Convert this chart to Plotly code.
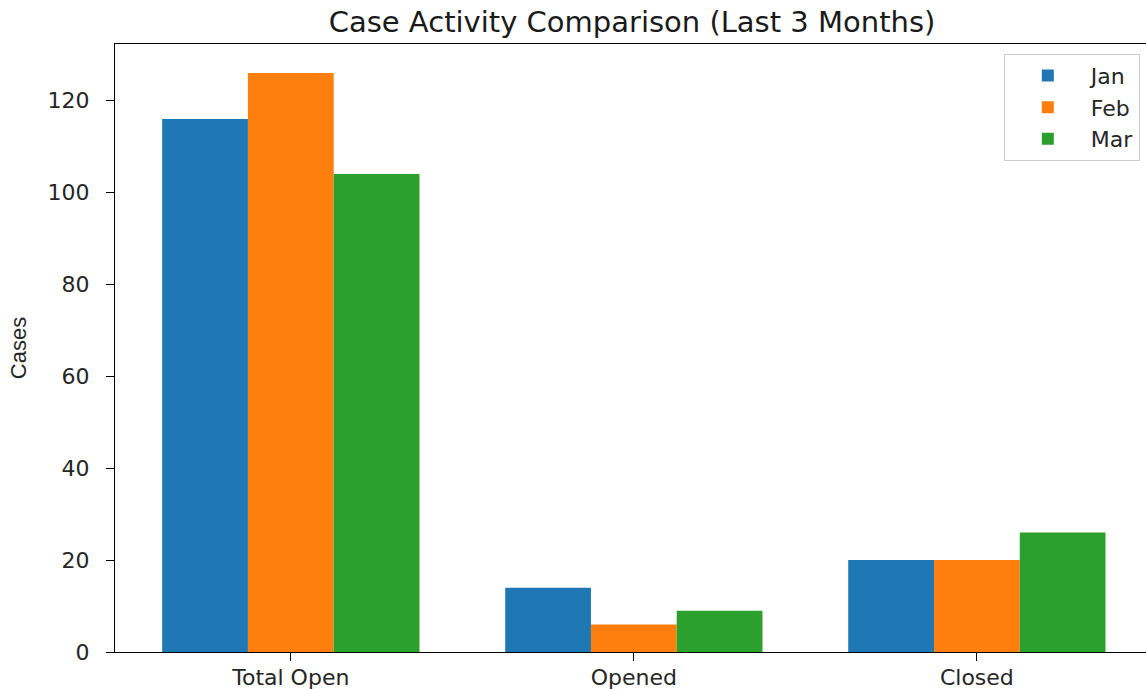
import plotly.graph_objects as go

categories = ["Total Open", "Opened", "Closed"]
months = ["Jan", "Feb", "Mar"]
jan_values = [116, 14, 20]
feb_values = [126, 6, 20]
mar_values = [104, 9, 26]
colors = ["#1f77b4", "#ff7f0e", "#2ca02c"]

series = [jan_values, feb_values, mar_values]

fig = go.Figure()
for name, vals, col in zip(months, series, colors):
    fig.add_trace(go.Bar(x=categories, y=vals, name=name, marker=dict(color=col, line=dict(width=0))))

font_family = "DejaVu Sans"
fig.update_layout(
    width=1146, height=689,
    margin=dict(l=115, r=0, t=44, b=37, autoexpand=False),
    paper_bgcolor="white", plot_bgcolor="white",
    barmode="group", bargap=0.25, bargroupgap=0,
    title=dict(text="Case Activity Comparison (Last 3 Months)", x=(632 / 1146), xanchor="center",
               y=1 - 22 / 689, yanchor="middle",
               font=dict(family=font_family, size=29, color="#1a1a1a")),
    font=dict(family=font_family, color="#262626"),
    legend=dict(x=0.994, xanchor="right", y=0.984, yanchor="top",
                bgcolor="white", bordercolor="#cccccc", borderwidth=1,
                itemwidth=76,
                font=dict(family=font_family, size=22, color="#262626")),
    showlegend=True,
)
fig.update_xaxes(
    range=[-0.5125, 2.493], automargin=False,
    showline=True, linecolor="black", linewidth=1.3, mirror=True,
    ticks="outside", ticklen=8, tickwidth=1.3, tickcolor="black",
    ticklabelstandoff=-3,
    tickfont=dict(family=font_family, size=22, color="#262626"),
    showgrid=False, zeroline=False,
)
fig.update_yaxes(
    range=[0, 132.3], automargin=False,
    tickvals=[0, 20, 40, 60, 80, 100, 120],
    showline=True, linecolor="black", linewidth=1.3,
    ticks="outside", ticklen=8, tickwidth=1.3, tickcolor="black",
    ticklabelstandoff=12,
    tickfont=dict(family=font_family, size=22, color="#262626"),
    showgrid=False, zeroline=False,
    title=dict(text="Cases", standoff=14,
               font=dict(family="Liberation Sans Narrow, Liberation Sans", size=22, color="#262626")),
)

fig.write_html("out.html", config={"displayModeBar": False},
               post_script="document.body.style.margin='0';")
